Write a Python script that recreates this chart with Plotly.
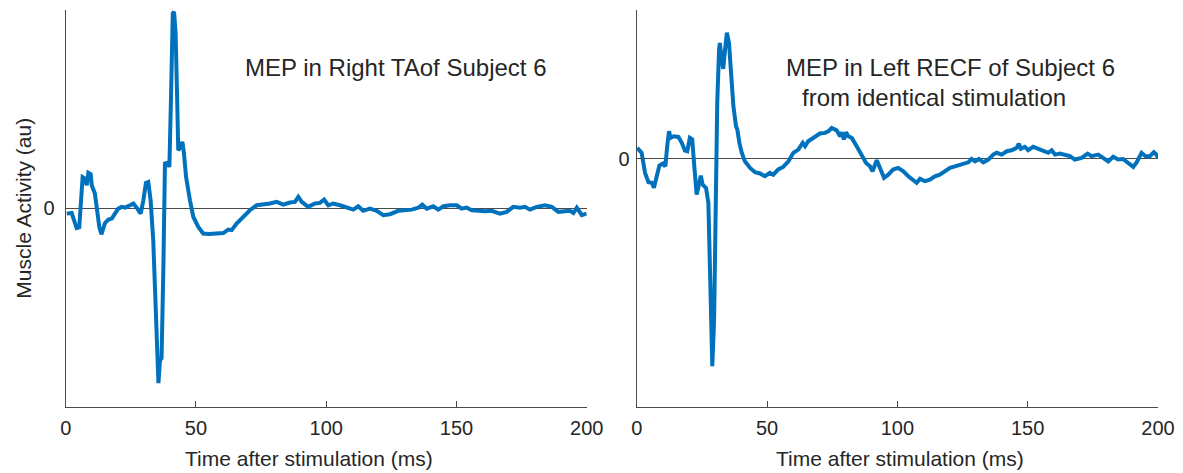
import plotly.graph_objects as go
from plotly.subplots import make_subplots

# --- Right TA trace (time in ms, activity in arbitrary units) ---
ta_time = [0.4, 2.3, 4.2, 5.2, 6.5, 7.4, 8.1, 8.7, 9.6, 10.0, 11.2, 11.9, 12.9, 13.7,
           15.1, 16.4, 17.7, 18.9, 20.2, 21.5, 22.8, 24.7, 26.0, 27.5, 28.8, 29.8, 30.8,
           31.7, 32.6, 33.6, 34.7, 35.2, 35.6, 36.2, 36.8, 37.5, 38.1, 39.0, 39.8, 40.4,
           41.1, 41.6, 42.2, 42.8, 43.2, 44.1, 44.8, 45.4, 46.2, 47.7, 49.0, 50.9, 52.8,
           55.0, 57.5, 60.5, 62.4, 63.7, 65.6, 68.2, 70.7, 73.3, 75.9, 78.4, 81.0, 83.5,
           86.1, 88.0, 89.3, 90.6, 93.1, 95.7, 97.6, 99.2, 100.8, 102.7, 105.3, 107.9,
           110.4, 112.3, 114.2, 116.8, 119.4, 121.9, 124.5, 127.7, 130.2, 132.8, 135.4,
           136.9, 138.6, 141.1, 143.0, 145.0, 147.5, 150.1, 152.0, 153.9, 155.9, 158.4,
           161.0, 163.5, 166.7, 169.3, 171.8, 174.4, 176.3, 178.2, 180.8, 184.0, 186.6,
           189.1, 191.7, 193.6, 194.9, 196.2, 198.1, 200.0]
ta_value = [-0.027, -0.024, -0.100, -0.096, 0.157, 0.150, 0.116, 0.178, 0.171, 0.116,
            0.074, 0.007, -0.094, -0.131, -0.074, -0.057, -0.052, -0.027, -0.002, 0.007,
            0.003, 0.015, 0.024, -0.002, -0.027, 0.040, 0.127, 0.132, 0.040, -0.160,
            -0.560, -0.630, -0.880, -0.765, -0.755, -0.295, 0.225, 0.228, 0.208, 0.543,
            0.980, 0.988, 0.879, 0.543, 0.292, 0.308, 0.334, 0.275, 0.158, 0.040, -0.044,
            -0.094, -0.127, -0.130, -0.128, -0.125, -0.107, -0.110, -0.077, -0.044,
            -0.010, 0.015, 0.018, 0.024, 0.032, 0.018, 0.029, 0.032, 0.057, 0.032, 0.007,
            0.024, 0.027, 0.044, 0.015, 0.024, 0.015, 0.003, -0.007, 0.010, -0.013,
            -0.002, -0.013, -0.035, -0.030, -0.013, -0.010, -0.007, 0.003, 0.018, -0.002,
            0.010, -0.007, 0.010, 0.015, 0.015, -0.002, 0.003, -0.010, -0.013, -0.015,
            -0.013, -0.027, -0.018, 0.007, 0.003, 0.007, -0.007, 0.007, 0.015, 0.007,
            -0.018, -0.018, -0.013, -0.024, 0.003, -0.035, -0.027]

# --- Left RECF trace ---
recf_time = [0.2, 1.9, 3.2, 4.5, 5.8, 6.6, 7.7, 8.7, 10.0, 11.0, 11.7, 12.4, 13.0, 14.3,
             16.0, 17.3, 18.5, 19.4, 20.4, 21.3, 22.1, 23.0, 23.6, 24.6, 25.3, 26.6, 27.5,
             28.1, 28.6, 29.0, 29.7, 30.3, 30.9, 31.6, 31.9, 32.6, 33.2, 33.9, 34.6, 35.4,
             36.2, 37.1, 38.1, 38.6, 39.4, 40.3, 41.5, 43.5, 45.4, 47.3, 49.2, 51.1, 52.4,
             54.3, 56.2, 58.2, 60.1, 62.0, 63.7, 64.6, 65.8, 67.7, 70.3, 72.2, 73.5, 74.8,
             76.7, 78.0, 78.6, 79.5, 80.3, 81.2, 82.5, 84.4, 86.3, 88.0, 89.5, 90.5, 92.1,
             93.3, 94.9, 96.5, 98.4, 100.3, 102.3, 104.2, 106.1, 107.4, 108.7, 110.6,
             112.5, 114.4, 116.3, 118.3, 120.2, 122.1, 124.7, 127.2, 128.5, 129.8, 131.3,
             133.0, 134.9, 136.8, 138.1, 140.0, 142.0, 143.8, 145.8, 146.6, 147.4, 148.9,
             150.2, 152.1, 154.1, 156.0, 157.9, 159.2, 160.5, 162.4, 164.3, 166.2, 168.1,
             170.7, 173.0, 174.5, 177.1, 179.6, 180.9, 182.8, 184.7, 186.6, 188.6, 190.5,
             191.8, 193.7, 195.2, 196.9, 198.4, 199.4, 200.0]
recf_value = [0.054, 0.029, -0.072, -0.119, -0.122, -0.147, -0.089, -0.035, -0.025,
              -0.039, 0.062, 0.137, 0.104, 0.112, 0.109, 0.079, 0.040, 0.037, 0.104, 0.096,
              -0.039, -0.181, -0.148, -0.086, -0.131, -0.148, -0.223, -0.559, -0.893,
              -1.045, -0.810, -0.223, 0.280, 0.549, 0.582, 0.498, 0.451, 0.549, 0.633,
              0.582, 0.414, 0.263, 0.163, 0.146, 0.079, 0.029, -0.014, -0.047, -0.069,
              -0.075, -0.089, -0.072, -0.081, -0.055, -0.042, -0.014, 0.029, 0.045, 0.079,
              0.062, 0.087, 0.104, 0.126, 0.129, 0.137, 0.154, 0.142, 0.112, 0.132, 0.096,
              0.132, 0.112, 0.104, 0.062, 0.020, -0.022, -0.039, -0.064, -0.008, -0.047,
              -0.097, -0.081, -0.055, -0.047, -0.064, -0.089, -0.106, -0.122, -0.102,
              -0.114, -0.106, -0.089, -0.081, -0.064, -0.047, -0.039, -0.030, -0.019,
              -0.002, -0.014, -0.002, -0.019, -0.005, 0.020, 0.029, 0.020, 0.037, 0.042,
              0.054, 0.075, 0.049, 0.059, 0.042, 0.059, 0.049, 0.037, 0.029, 0.042, 0.020,
              0.025, 0.020, 0.012, -0.005, 0.003, 0.025, 0.012, 0.020, -0.005, -0.014,
              0.009, -0.005, -0.002, -0.022, -0.042, -0.019, 0.029, 0.012, 0.012, 0.032,
              0.020, 0.003]

x_ticks = [0, 50, 100, 150, 200]
x_title = "Time after stimulation (ms)"
y_title = "Muscle Activity (au)"
ta_title = "MEP in Right TAof Subject 6"
recf_title_1 = "MEP in Left RECF of Subject 6"
recf_title_2 = "from identical stimulation"

W, H = 1183, 473
LINE_BLUE = "#0072BD"
AXIS_GREY = "#4a4a4a"
TEXT = "#262626"
FONT = "Liberation Sans, Arial, sans-serif"

fig = make_subplots(rows=1, cols=2)

fig.add_trace(go.Scatter(x=ta_time, y=ta_value, mode="lines",
                         line=dict(color=LINE_BLUE, width=4), showlegend=False),
              row=1, col=1)
fig.add_trace(go.Scatter(x=recf_time, y=recf_value, mode="lines",
                         line=dict(color=LINE_BLUE, width=4), showlegend=False),
              row=1, col=2)

x_common = dict(range=[0, 200], tickvals=x_ticks, ticks="inside", ticklen=6,
                tickwidth=1, tickcolor=AXIS_GREY, showline=True, linecolor=AXIS_GREY,
                linewidth=1, showgrid=False, zeroline=False, ticklabelstandoff=3,
                tickfont=dict(size=20, color=TEXT, family=FONT),
                automargin=False)
y_common = dict(tickvals=[0], ticktext=["0"], ticks="inside", ticklen=6, tickwidth=1,
                tickcolor=AXIS_GREY, showline=True, linecolor=AXIS_GREY, linewidth=1,
                showgrid=False, zeroline=True, zerolinecolor=AXIS_GREY,
                zerolinewidth=1, tickfont=dict(size=20, color=TEXT, family=FONT),
                automargin=False)

y_top = 1 - 9.5 / H
y_bot = 1 - 407 / H

fig.update_xaxes(domain=[65.7 / W, 586.7 / W], **x_common, row=1, col=1)
fig.update_xaxes(domain=[636.7 / W, 1158 / W], **x_common, row=1, col=2)
fig.update_yaxes(domain=[y_bot, y_top], range=[-1.0, 1.0], ticklabelstandoff=6,
                 title=dict(text=y_title, font=dict(size=21, color=TEXT, family=FONT),
                            standoff=6),
                 **y_common, row=1, col=1)
fig.update_yaxes(domain=[y_bot, y_top], range=[-1.25, 0.75], ticklabelstandoff=2,
                 **y_common, row=1, col=2)

# Panel titles
title_font = dict(size=24, color=TEXT, family=FONT)
fig.add_annotation(text=ta_title, xref="paper", yref="paper", x=243 / W, y=1 - 67 / H,
                   xanchor="left", yanchor="middle", showarrow=False, font=title_font)
fig.add_annotation(text=recf_title_1, xref="paper", yref="paper", x=784 / W,
                   y=1 - 67 / H, xanchor="left", yanchor="middle", showarrow=False,
                   font=title_font)
fig.add_annotation(text=recf_title_2, xref="paper", yref="paper", x=800 / W,
                   y=1 - 97 / H, xanchor="left", yanchor="middle", showarrow=False,
                   font=title_font)

# Time-axis labels under each panel
x_label_font = dict(size=21, color=TEXT, family=FONT)
for cx in (309, 900):
    fig.add_annotation(text=x_title, xref="paper", yref="paper", x=cx / W,
                       y=1 - 458 / H, xanchor="center", yanchor="middle",
                       showarrow=False, font=x_label_font)

fig.update_layout(width=W, height=H, margin=dict(l=0, r=0, t=0, b=0),
                  paper_bgcolor="white", plot_bgcolor="white",
                  font=dict(family=FONT, color=TEXT))

fig.write_html("out.html")
